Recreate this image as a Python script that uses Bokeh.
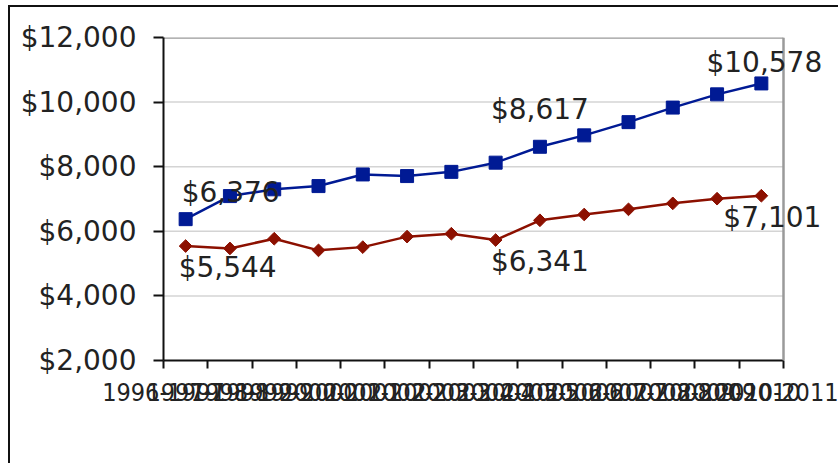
from bokeh.plotting import figure
from bokeh.models import (ColumnDataSource, NumeralTickFormatter, FixedTicker, Legend,
                          LegendItem, Label, Range1d, Span)
from bokeh.embed import file_html
from bokeh.resources import INLINE
import numpy as np

# ---- data ----
year_labels = ["1996-1997", "1997-1998", "1998-1999", "1999-2000", "2000-2001",
               "2001-2002", "2002-2003", "2003-2004", "2004-2005", "2005-2006",
               "2006-2007", "2007-2008", "2008-2009", "2009-2010", "2010-2011"]
provincial = [6376, 7090, 7300, 7400, 7760, 7710, 7840, 8125, 8617, 8970,
              9380, 9830, 10240, 10578]
first_nation = [5544, 5470, 5770, 5410, 5510, 5835, 5925, 5730, 6341, 6520,
                6680, 6865, 7010, 7101]
y_ticks = [2000, 4000, 6000, 8000, 10000, 12000]

FONT = "DejaVu Sans"
NARROW = "DejaVu Sans Condensed"
BLUE = "#001a94"
RED = "#8c1000"
TXT = "#222222"

n_cat = len(year_labels) - 1          # 14 intervals
x_pts = [i + 0.5 for i in range(len(provincial))]

# layout (pixels)
W, H = 828, 456
FRAME_L, FRAME_W_VISIBLE = 153, 620   # visible chart box 620px wide
FRAME_W, FRAME_H = W - FRAME_L, 323   # frame extended to the right edge
x_max = n_cat * FRAME_W / FRAME_W_VISIBLE

p = figure(width=W, height=H, frame_width=FRAME_W, frame_height=FRAME_H,
           output_backend="svg", toolbar_location=None,
           x_range=Range1d(0, x_max), y_range=Range1d(y_ticks[0], y_ticks[-1]),
           min_border_left=FRAME_L, min_border_right=0, min_border_top=30,
           min_border_bottom=10)
p.styles = {"border-top": "2px solid #111", "border-left": "2px solid #111",
            "margin-left": "8px", "margin-top": "5px"}

p.outline_line_color = None
p.xgrid.visible = False
p.ygrid.visible = False

# gridlines limited to the chart box
grid_src = ColumnDataSource(dict(y=y_ticks[1:-1]))
p.segment(x0=0, x1=n_cat, y0="y", y1="y", source=grid_src,
          line_color="#d4d4d4", line_width=1.5)
p.segment(x0=0, x1=n_cat, y0=y_ticks[-1], y1=y_ticks[-1],
          line_color="#9a9a9a", line_width=2.5)
p.add_layout(Span(location=n_cat, dimension="height", line_color="#9a9a9a", line_width=2.5))

p.yaxis.ticker = FixedTicker(ticks=y_ticks)
p.yaxis.formatter = NumeralTickFormatter(format="$0,0")
p.xaxis.ticker = FixedTicker(ticks=list(range(len(year_labels))))
p.xaxis.major_label_overrides = {i: s for i, s in enumerate(year_labels)}
p.xaxis.bounds = (0, n_cat)
for ax in (p.xaxis, p.yaxis):
    ax.axis_line_color = "#111111"
    ax.axis_line_width = 2
    ax.major_tick_line_color = "#111111"
    ax.major_tick_line_width = 2
    ax.minor_tick_line_color = None
    ax.major_tick_in = 0
    ax.major_label_text_color = TXT
p.yaxis.major_label_text_font = FONT
p.yaxis.major_label_text_font_size = "28px"
p.yaxis.major_tick_out = 10
p.yaxis.major_label_standoff = 17
p.xaxis.major_label_text_font = NARROW
p.xaxis.major_label_text_font_size = "25px"
p.xaxis.major_tick_out = 8
p.xaxis.major_label_standoff = 14
p.xaxis.axis_label = " "
p.xaxis.axis_label_text_font_size = "12px"
p.xaxis.axis_label_standoff = 4

src_b = ColumnDataSource(dict(x=x_pts, y=provincial))
src_r = ColumnDataSource(dict(x=x_pts, y=first_nation))

lb = p.line("x", "y", source=src_b, line_color=BLUE, line_width=2.5)
mb = p.scatter("x", "y", source=src_b, marker="square", size=13,
               fill_color=BLUE, line_color=BLUE)
lr = p.line("x", "y", source=src_r, line_color=RED, line_width=2.5)
mr = p.scatter("x", "y", source=src_r, marker="square", angle=np.pi / 4, size=9,
               fill_color=RED, line_color=RED)
# invisible renderer used only as a spacer item in the legend
spacer = p.line("x", "y", source=src_r, line_alpha=0)

# data labels: (series, index, align, x_offset, y_offset)
label_specs = [
    (provincial, 0, "left", -4, 27),
    (provincial, 8, "center", 0, 37),
    (provincial, 13, "center", 3, 21),
    (first_nation, 0, "left", -7, -21),
    (first_nation, 8, "center", 0, -41),
    (first_nation, 13, "center", 11, -22),
]
for series, idx, align, dx, dy in label_specs:
    p.add_layout(Label(x=x_pts[idx], y=series[idx], text="${:,}".format(series[idx]),
                       text_align=align, text_baseline="middle", x_offset=dx, y_offset=dy,
                       text_font=FONT, text_font_size="28px", text_color=TXT))

legend = Legend(items=[LegendItem(label=" ", renderers=[spacer]),
                       LegendItem(label="First Nation Schools", renderers=[lr, mr])],
                location="top_left", orientation="horizontal",
                glyph_width=50, glyph_height=20, label_standoff=9, label_width=81,
                spacing=0, padding=0, margin=0,
                border_line_alpha=0, background_fill_alpha=0,
                label_text_font=FONT, label_text_font_size="23px", label_text_color=TXT)
p.add_layout(legend, "below")

open("out.html", "w").write(file_html(p, INLINE))
